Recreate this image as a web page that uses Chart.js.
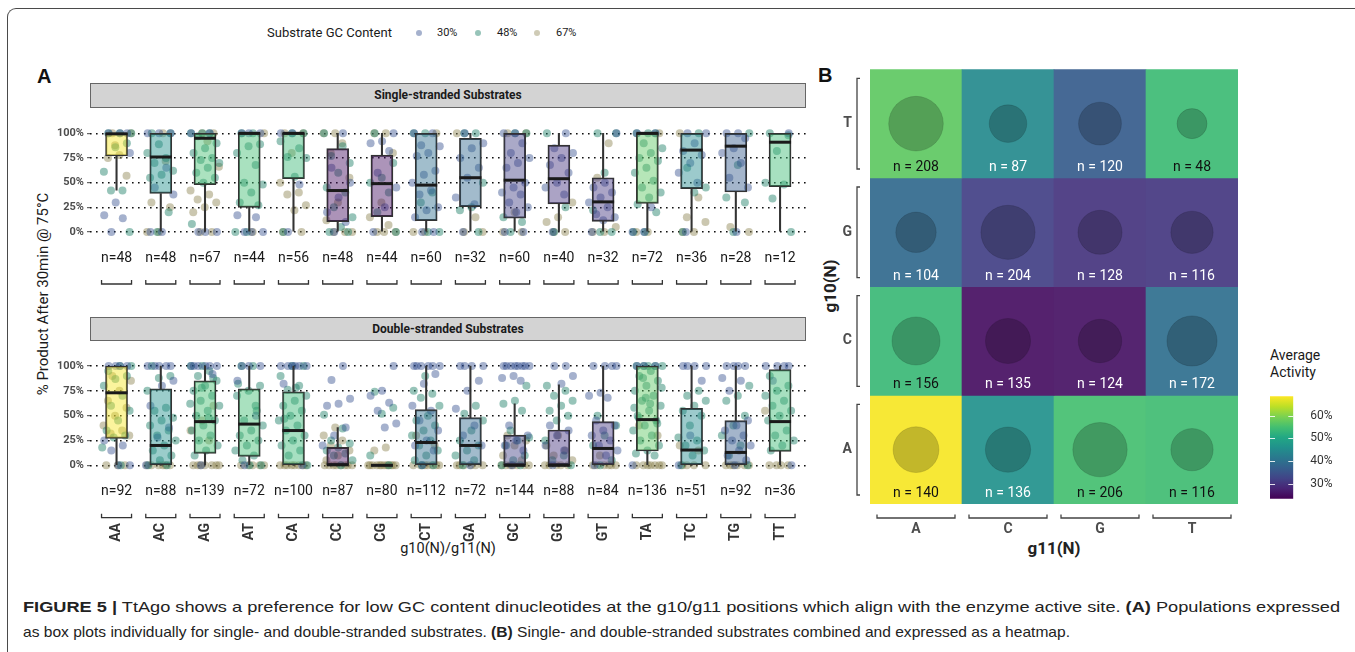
<!DOCTYPE html>
<html><head><meta charset="utf-8">
<script src="https://cdn.jsdelivr.net/npm/chart.js@4.4.1/dist/chart.umd.min.js"></script>
<style>
html,body{margin:0;padding:0;background:#fff;}
#root{position:relative;width:1355px;height:652px;overflow:hidden;background:#fff;
  font-family:Roboto,"Noto Sans",sans-serif;color:#1a1a1a;}
.abs{position:absolute;white-space:nowrap;}
canvas{position:absolute;}
.frame{left:7px;top:8px;width:1400px;height:700px;border-left:1.5px solid #4a4a4a;border-top:1.5px solid #4a4a4a;border-top-left-radius:9px;}
.strip{left:90px;width:716px;background:#d3d3d3;border:1px solid #666;box-sizing:border-box;font-weight:bold;font-size:12px;text-align:center;color:#1a1a1a;}
.dot{width:6px;height:6px;border-radius:50%;}
.panel{font-family:"Liberation Sans",Arial,sans-serif;font-weight:bold;font-size:20px;color:#111;}
.cap{font-family:"Liberation Sans Narrow","Liberation Sans",Arial,sans-serif;font-size:15px;color:#222;transform-origin:0 50%;}
</style></head>
<body><div id="root">
<div class="abs frame"></div>
<div class="abs" style="left:267px;top:24px;font-size:13px;line-height:18px;">Substrate GC Content</div>
<div class="abs dot" style="left:416px;top:30px;background:rgba(40,70,135,0.42)"></div>
<div class="abs" style="left:437px;top:26px;font-size:11px;line-height:14px;">30%</div>
<div class="abs dot" style="left:475px;top:30px;background:rgba(25,125,100,0.45)"></div>
<div class="abs" style="left:497px;top:26px;font-size:11px;line-height:14px;">48%</div>
<div class="abs dot" style="left:534px;top:30px;background:rgba(140,130,80,0.42)"></div>
<div class="abs" style="left:556px;top:26px;font-size:11px;line-height:14px;">67%</div>

<div class="abs panel" style="left:37px;top:65px;">A</div>
<div class="abs panel" style="left:818px;top:64px;">B</div>

<div class="abs strip" style="top:83px;height:25px;line-height:23px;">Single-stranded Substrates</div>
<div class="abs strip" style="top:317px;height:24px;line-height:22px;">Double-stranded Substrates</div>

<div class="abs" style="left:-107px;top:284px;width:300px;height:20px;line-height:20px;text-align:center;font-size:15px;transform:rotate(-90deg);">% Product After 30min @ 75°C</div>
<div class="abs" style="left:348px;top:540px;width:200px;text-align:center;font-size:14.5px;line-height:18px;">g10(N)/g11(N)</div>

<div class="abs" style="left:954px;top:537px;width:200px;text-align:center;font-size:17px;font-weight:bold;line-height:22px;color:#222;">g11(N)</div>
<div class="abs" style="left:780px;top:275px;width:100px;height:22px;text-align:center;font-size:17px;font-weight:bold;line-height:22px;transform:rotate(-90deg);color:#222;">g10(N)</div>

<div class="abs" style="left:1270px;top:347px;font-size:14px;line-height:17px;">Average<br>Activity</div>

<canvas id="ssChart" width="815" height="200" style="left:0;top:110px;"></canvas>
<canvas id="dsChart" width="815" height="220" style="left:0;top:340px;"></canvas>
<canvas id="heatChart" width="445" height="500" style="left:810px;top:60px;"></canvas>
<canvas id="barChart" width="93" height="135" style="left:1262px;top:380px;"></canvas>

<div class="abs cap" id="cap1" style="left:23px;top:598px;line-height:18px;"><b>FIGURE 5 |</b> TtAgo shows a preference for low GC content dinucleotides at the g10/g11 positions which align with the enzyme active site. <b>(A)</b> Populations expressed</div>
<div class="abs cap" id="cap2" style="left:23px;top:623px;line-height:18px;">as box plots individually for single- and double-stranded substrates. <b>(B)</b> Single- and double-stranded substrates combined and expressed as a heatmap.</div>
</div>
<script>
const FONT = 'Roboto,"Noto Sans",sans-serif';

// ---------------- data ----------------
const categories = ['AA','AC','AG','AT','CA','CC','CG','CT','GA','GC','GG','GT','TA','TC','TG','TT'];
const yTicks = [0, 25, 50, 75, 100];
const gcLabels = ['30%', '48%', '67%'];

const nSingle = [48,48,67,44,56,48,44,60,32,60,40,32,72,36,28,12];
const nDouble = [92,88,139,72,100,87,80,112,72,144,88,84,136,51,92,36];

const ssQ1  = [77,39,48,25,54,10.5,15.5,11.5,25.7,14,28.4,10.8,29,44,40.5,46];
const ssMed = [99.5,76,95,100,100,42,49,47.5,55,52.5,54,30.5,100,83,87,91];
const ssQ3  = [100,100,100,100,100,84.5,78,100,95,100,88,55,100,100,100,100];
const ssLo  = [42.5,0,0,0,0,0,0,0,0,0,0,0,0,0,0,0];
const ssHi  = [100,100,100,100,100,100,100,100,100,100,100,100,100,100,100,100];

const dsQ1  = [27,0,12,9,0,0,0,0,0,0,0,0,14.4,0,0,14];
const dsMed = [73,20,44,41.5,35,0.5,0,23,20,0,0,17,46,15.4,13,44];
const dsQ3  = [100,77,85,77,74,18,0,56,48,30.5,35.6,44,100,57.4,45,96.3];
const dsLo  = [0,0,0,0,0,0,0,0,0,0,0,0,0,0,0,0];
const dsHi  = [100,100,100,100,100,38,0,100,100,62,81,100,100,100,100,100];

const ssPts30 = [
 [100,100,100,30,17,14,0,80],[100,100,100,65,45,38,0,0],[100,100,0,0,0],[100,100,100,17,15,0,0,0],
 [100,100,48,0],[100,65,50,35,20,10,0],[100,92,90,82,60,45,25,0],[100,100,88,87,80,77,62,58,50,42,38,25,22,15,0,0],
 [100,90,85,75,65,55,35,28,0],[100,100,90,80,75,70,65,50,45,40,38,30,25,20,0,0],[100,85,80,75,68,60,50,45,38,0],[100,50,45,40,35,30,25,18,15,12,0],
 [100,100,0,0,25],[100,100,90,82,78,70,60,50,0],[100,100,95,85,80,70,55,45,0],[100]
];
const ssPts48 = [
 [100,100,100,90,86,61,42,42,0],[100,100,89,80,75,70,62,58,55,20,0],[100,100,100,97,90,85,80,75,73,70,65,60,55,50,8],[100,100,89,87,80,68,50,48,40,30,27,0,0],
 [100,100,92,85,76,75,56,0],[100,87,77,70,60,45,40,25,15,5,0,0],[100,70,55,50,40,20,0],[100,100,40,30,0,0],
 [100,100,50,25,22,0],[100,100,15,10,0],[100,25,0],[100,100,60,22,0,0],
 [100,100,100,90,85,80,75,72,65,60,52,45,40,35,28,20,0,0],[100,65,45,40,0],[100,68,35,30,0],[100,98,82,50,48,34,0]
];
const ssPts67 = [
 [100,100,78,75,57,88],[100,30,25,0,0,72],[100,100,42,38,33,30,25,20,0,0,66,92],[100,0],
 [100,100,80,50,40,38,27,22,0,0],[100,100,90,80,55,30,12,0,0,0],[100,100,80,30,15,7,0,0,0],[100,0,0],
 [100,15,0,0],[100,100,20,0,0],[15,10,0,0,30],[90,55,5,0,0],
 [100,0,0],[100,35,15,10,0,0],[5,0],[]
];

const dsPts30 = [
 [100,100,100,100,25,20,15,0,0],[100,100,100,100,100,85,80,60,38,28,0],[100,100,100,100,100,100,92,0],[100,100,100,85,50,0],
 [100,100,100,100,100,100,82,0],[100,86,67,62,60,38,30,20],[100,75,70,63,55,42,38],[100,100,100,100,100,100,92,82,60,55,45,35,25,20,15,0],
 [100,100,100,100,85,75,57,40,30,20,0],[100,100,100,100,100,100,100,100,90,88,85,40,30,25,20,15,0],[100,100,90,82,40,35,30,20,15,0],[100,100,100,100,73,70,68,45,40,35,30,25,20,15,10,0],
 [100,100,100,0],[100,100,100,100,85,30,0],[100,100,100,100,88,85,75,45,40,35,30,25,20,15,10,5,0],[100,100,100,100,85,0]
];
const dsPts48 = [
 [100,100,95,90,87,80,70,60,55,45,35,30,28,18,0],[100,90,88,75,58,55,48,45,40,35,30,25,20,15,10,5,0,0],
 [100,100,95,90,85,80,75,70,65,60,55,50,45,40,35,30,25,20,15,10,88,78,62,48],[100,100,80,75,70,60,45,40,35,30,25,20,15,10,5,0,0,82,55],
 [100,100,90,80,76,70,65,60,55,50,45,40,35,30,25,20,15,10,0,78,47],[51,37,25,22,18,15,12,10,5,0],[74,58,52,10,0],[90,75,72,68,60,50,45,40,35,30,25,20,15,10,5,0,0],
 [60,52,45,35,25,20,15,10,5,0],[80,65,62,55,35,28,25,20,10,5,0,0],[80,75,70,65,60,55,50,45,25,10,5,0],[50,40,30,20,5,0],
 [100,100,100,100,100,95,90,85,80,75,70,65,60,55,50,45,40,35,30,25,20,15,12,10,88,78,62,48,42,68,58],[75,70,65,60,55,50,40,28,25,20,15,10,0],[80,70,65,50,40,30,20,10,0],[90,80,75,70,65,60,55,50,45,35,30,25,20,15]
];
const dsPts67 = [
 [90,85,75,65,58,50,40,35,32,30,0,0,0],[0,0,0,0,0,0],[60,45,35,25,0,0,0,0,0,0,0],[0,0,0,0,0],
 [0,0,0,0,0,0,0,0],[38,30,25,20,15,10,5,0,0,0,0,0,0,0,0],[18,15,0,0,0,0,0,0,0,0,0,0,0,0],[0,0,0,0,0,0,0,30,20],
 [0,0,0,0,0,0],[30,25,20,10,5,0,0,0,0,0,0,0],[30,20,15,10,5,0,0,0,0,0],[0,0,0,0,0,0,10],
 [0,0,0,0,0,0,0,40,30],[20,15,0,0,0,0],[0,0,0,0,0,0],[0,0,0,0,55]
];

// heatmap (combined): order of categories above, g10 = first base (row), g11 = second base (column)
const bases = ['A','C','G','T'];
const heatActivity = [68,46,55,54.5,53.7,25.3,25.7,39.7,38.8,32,30.2,30.7,57.2,44.7,36.5,54];
const heatN = [140,136,206,116,156,135,124,172,104,204,128,116,208,87,120,48];
const activityRange = [23.5, 68.5];
const colorbarTicks = [30, 40, 50, 60];

// ---------------- helpers ----------------
const VIR = ['#440154','#482475','#414487','#355f8d','#2a788e','#21918c','#22a884','#44bf70','#7ad151','#bddf26','#fde725'];
function hex2rgb(h){return [parseInt(h.slice(1,3),16),parseInt(h.slice(3,5),16),parseInt(h.slice(5,7),16)];}
function viridis(t){
  t = Math.max(0, Math.min(1, t));
  const p = t*10, i = Math.min(9, Math.floor(p)), f = p - i;
  const a = hex2rgb(VIR[i]), b = hex2rgb(VIR[i+1]);
  return a.map((v,k)=>Math.round(v + (b[k]-v)*f));
}
function actColor(v, alpha, wash){
  const c = viridis((v - activityRange[0])/(activityRange[1]-activityRange[0]));
  const w = wash || 0;
  const m = c.map(x => Math.round(x + (255 - x)*w));
  return `rgba(${m[0]},${m[1]},${m[2]},${alpha})`;
}
const GC_COLORS = ['rgba(40,70,135,0.42)','rgba(25,125,100,0.45)','rgba(140,130,80,0.45)'];
function jit(i,k,g){ return ((((k+1)*0.6180339 + i*0.2113 + g*0.371) % 1) - 0.5) * 0.68; }
function pointsOf(arr, g){
  const out = [];
  arr.forEach((vals,i)=>vals.forEach((v,k)=>out.push({x: i + jit(i,k,g), y: v})));
  return out;
}

function boxChart(id, q1, med, q3, lo, hi, p30, p48, p67, nArr, cfg){
  const labelPlugin = {
    id: 'boxLabels_'+id,
    afterDraw(chart){
      const ctx = chart.ctx, xs = chart.scales.x;
      ctx.save();
      nArr.forEach((n,i)=>{
        const x = xs.getPixelForValue(i);
        ctx.font = '14px ' + FONT; ctx.fillStyle = '#1a1a1a';
        ctx.textAlign = 'center'; ctx.textBaseline = 'middle';
        ctx.fillText('n=' + n, x, cfg.nY);
        ctx.strokeStyle = '#333'; ctx.lineWidth = 1.3;
        ctx.beginPath();
        ctx.moveTo(x-15, cfg.brY-4); ctx.lineTo(x-15, cfg.brY); ctx.lineTo(x+15, cfg.brY); ctx.lineTo(x+15, cfg.brY-4);
        ctx.stroke();
        if (cfg.cats){
          ctx.save(); ctx.translate(x, cfg.catY); ctx.rotate(-Math.PI/2);
          ctx.textAlign = 'right'; ctx.textBaseline = 'middle';
          ctx.font = 'bold 14px ' + FONT; ctx.fillStyle = '#333';
          ctx.fillText(categories[i], 0, 0); ctx.restore();
        }
      });
      ctx.restore();
    }
  };
  const idx = categories.map((c,i)=>i);
  return new Chart(document.getElementById(id), {
    type: 'bar',
    data: { datasets: [
      {type:'scatter', data: pointsOf(p67,2), backgroundColor: GC_COLORS[2], borderWidth:0, pointRadius:4, clip:false, order:7},
      {type:'scatter', data: pointsOf(p48,1), backgroundColor: GC_COLORS[1], borderWidth:0, pointRadius:4, clip:false, order:6},
      {type:'scatter', data: pointsOf(p30,0), backgroundColor: GC_COLORS[0], borderWidth:0, pointRadius:4, clip:false, order:5},
      {type:'bar', data: idx.map(i=>({x:i, y:[q1[i], q3[i]]})),
        backgroundColor: ctx => actColor(heatActivity[ctx.dataIndex], 0.45),
        borderColor:'#333', borderWidth:1.3, borderSkipped:false, barThickness:22, grouped:false, order:3},
      {type:'bar', data: idx.map(i=>({x:i, y:[lo[i], q1[i]]})), backgroundColor:'#333', borderWidth:0, barThickness:1.4, grouped:false, order:2},
      {type:'bar', data: idx.map(i=>({x:i, y:[q3[i], hi[i]]})), backgroundColor:'#333', borderWidth:0, barThickness:1.4, grouped:false, order:2},
      {type:'scatter', data: idx.map(i=>({x:i, y:med[i]})), pointStyle:'line', pointRadius:11, borderWidth:3, borderColor:'#1a1a1a', clip:false, order:0}
    ]},
    options: {
      responsive:false, animation:false, events:[],
      layout:{autoPadding:false, padding:{left:0, right:cfg.padR, top:cfg.padT, bottom:cfg.padB}},
      plugins:{legend:{display:false}, tooltip:{enabled:false}},
      scales:{
        x:{type:'linear', min:-0.6, max:15.6, offset:false, display:false},
        y:{type:'linear', min:-5, max:105,
          afterBuildTicks: s => { s.ticks = yTicks.map(v=>({value:v})); },
          afterFit: s => { s.width = 90; },
          ticks:{callback: v => v + '%', font:{family:FONT, size:11, weight:'bold'}, color:'#4d4d4d', padding:3},
          grid:{color:'#111', lineWidth:1.4, tickLength:3, tickColor:'#444', tickWidth:1, tickBorderDash:[]},
          border:{display:false, dash:[1.6,4.4]}
        }
      }
    },
    plugins:[labelPlugin]
  });
}

boxChart('ssChart', ssQ1, ssMed, ssQ3, ssLo, ssHi, ssPts30, ssPts48, ssPts67, nSingle,
  {padR:8.4, padT:18.4, padB:73.1, nY:148, brY:174, cats:false});
boxChart('dsChart', dsQ1, dsMed, dsQ3, dsLo, dsHi, dsPts30, dsPts48, dsPts67, nDouble,
  {padR:8.4, padT:21, padB:89.7, nY:151, brY:177.7, catY:183, cats:true});

// ---------------- heatmap ----------------
const cells = categories.map((c,k)=>({row: bases.indexOf(c[0]), col: bases.indexOf(c[1]), k}));
const heatPlugin = {
  id:'heatLabels',
  afterDraw(chart){
    const ctx = chart.ctx, xs = chart.scales.x, ys = chart.scales.y;
    ctx.save();
    ctx.textAlign = 'center'; ctx.textBaseline = 'middle';
    ctx.font = '14px ' + FONT;
    cells.forEach(c=>{
      const x = xs.getPixelForValue(c.col), y = ys.getPixelForValue(c.row - 0.5) - 10.5;
      ctx.fillStyle = heatActivity[c.k] > 50 ? '#111' : '#fff';
      ctx.fillText('n = ' + heatN[c.k], x, y);
    });
    ctx.strokeStyle = '#444'; ctx.lineWidth = 1.3; ctx.fillStyle = '#4d4d4d';
    ctx.font = 'bold 14px ' + FONT;
    bases.forEach((b,r)=>{
      const top = ys.getPixelForValue(r + 0.5) + 9, bot = ys.getPixelForValue(r - 0.5) - 9;
      const yc = ys.getPixelForValue(r);
      ctx.beginPath(); ctx.moveTo(50, top); ctx.lineTo(47, top); ctx.lineTo(47, bot); ctx.lineTo(50, bot); ctx.stroke();
      ctx.textAlign = 'right'; ctx.fillText(b, 42, yc);
      const xl = xs.getPixelForValue(r) - 39, xr = xs.getPixelForValue(r) + 39, xc = xs.getPixelForValue(r);
      ctx.beginPath(); ctx.moveTo(xl, 454.5); ctx.lineTo(xl, 458); ctx.lineTo(xr, 458); ctx.lineTo(xr, 454.5); ctx.stroke();
      ctx.textAlign = 'center'; ctx.fillText(b, xc, 469);
    });
    ctx.restore();
  }
};
new Chart(document.getElementById('heatChart'), {
  type:'bar',
  data:{ labels: bases, datasets:[
    {type:'scatter', data: cells.map(c=>({x: bases[c.col], y: c.row})),
      pointRadius: ctx => Math.sqrt(70 + 3.25*heatN[cells[ctx.dataIndex].k]),
      backgroundColor:'rgba(0,0,0,0.21)', borderColor:'rgba(0,0,0,0.12)', borderWidth:1, clip:false, order:0},
    {type:'bar', data: cells.map(c=>({x: bases[c.col], y:[c.row - 0.5, c.row + 0.5]})),
      backgroundColor: ctx => actColor(heatActivity[cells[ctx.dataIndex].k], 1, 0.08),
      borderWidth:0, barPercentage:1, categoryPercentage:1, grouped:false, order:1}
  ]},
  options:{
    responsive:false, animation:false, events:[],
    layout:{autoPadding:false, padding:{left:60, right:17, top:9.3, bottom:56}},
    plugins:{legend:{display:false}, tooltip:{enabled:false}},
    scales:{
      x:{type:'category', offset:true, display:false},
      y:{type:'linear', min:-0.5, max:3.5, display:false}
    }
  },
  plugins:[heatPlugin]
});

// ---------------- colour bar ----------------
const barTickPlugin = {
  id:'barTicks',
  afterDatasetsDraw(chart){
    const ctx = chart.ctx, ys = chart.scales.y, ca = chart.chartArea;
    ctx.save(); ctx.strokeStyle = 'rgba(255,255,255,0.85)'; ctx.lineWidth = 1;
    colorbarTicks.forEach(v=>{
      const y = Math.round(ys.getPixelForValue(v)) + 0.5;
      ctx.beginPath(); ctx.moveTo(ca.left, y); ctx.lineTo(ca.left + 5, y);
      ctx.moveTo(ca.right - 5, y); ctx.lineTo(ca.right, y); ctx.stroke();
    });
    ctx.restore();
  }
};
new Chart(document.getElementById('barChart'), {
  type:'bar',
  data:{ labels:['Average Activity'], datasets:[{
    data:[{x:'Average Activity', y: activityRange.slice()}],
    backgroundColor: ctx => {
      const ca = ctx.chart.chartArea; if (!ca) return 'transparent';
      const g = ctx.chart.ctx.createLinearGradient(0, ca.bottom, 0, ca.top);
      VIR.forEach((c,i)=>g.addColorStop(i/10, c));
      return g;
    },
    borderWidth:0, barPercentage:1, categoryPercentage:1
  }]},
  options:{
    responsive:false, animation:false, events:[],
    layout:{autoPadding:false, padding:{left:8, right:0, top:7.3, bottom:7.7}},
    plugins:{legend:{display:false}, tooltip:{enabled:false}},
    scales:{
      x:{type:'category', offset:true, display:false},
      y:{type:'linear', position:'right', min:activityRange[0], max:activityRange[1],
        afterBuildTicks: s => { s.ticks = colorbarTicks.map(v=>({value:v})); },
        afterFit: s => { s.width = 61.7; },
        ticks:{callback: v => v + '%', font:{family:FONT, size:12}, color:'#333', padding:9},
        grid:{display:false}, border:{display:false}}
    }
  },
  plugins:[barTickPlugin]
});

// fit caption lines to the reference widths
function fit(id, w){
  const el = document.getElementById(id);
  el.style.transform = '';
  const a = el.getBoundingClientRect().width;
  el.style.transform = 'scaleX(' + (w/a) + ')';
}
fit('cap1', 1317); fit('cap2', 1047);
</script>
</body></html>
